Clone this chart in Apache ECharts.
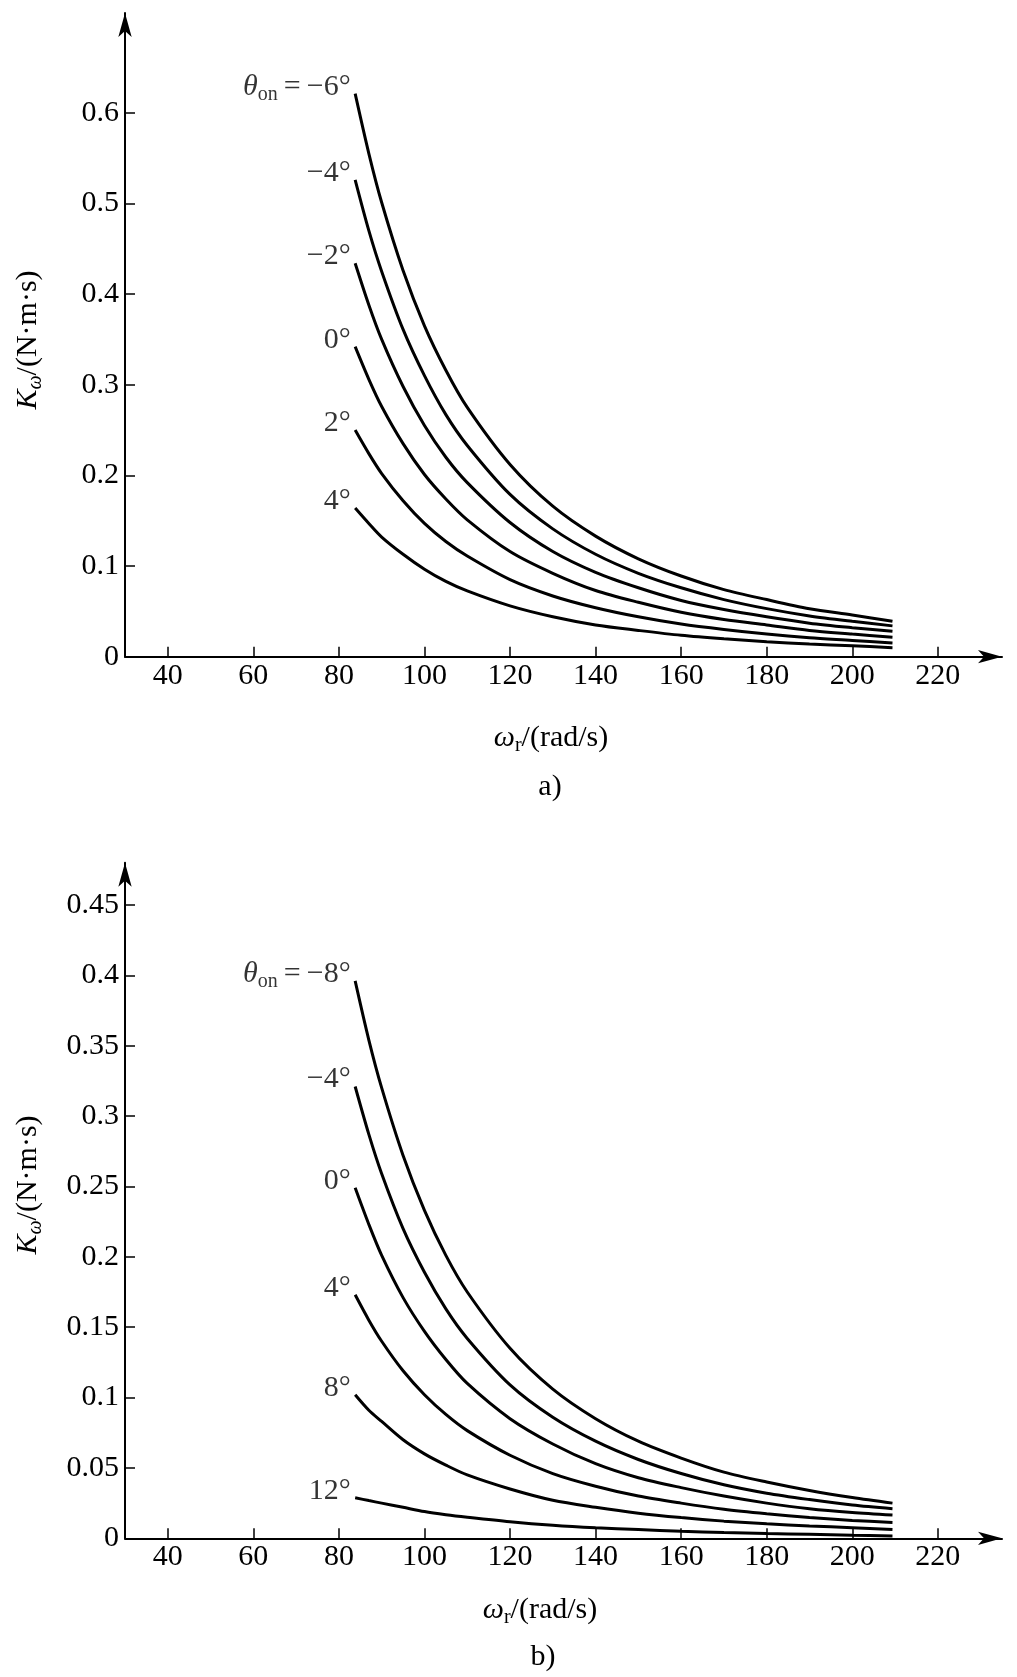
<!DOCTYPE html>
<html><head><meta charset="utf-8">
<script src="https://cdn.jsdelivr.net/npm/echarts@6/dist/echarts.min.js"></script>
<style>html,body{margin:0;padding:0;background:#fff}#c{width:1017px;height:1677px}</style>
</head><body><div id="c"></div>
<script>
// ---- data ----
const omega = [83.8, 87, 90, 95, 100, 105, 110, 120, 130, 140, 150, 160, 170, 180, 190, 200, 209.4];
const xTicks = [40, 60, 80, 100, 120, 140, 160, 180, 200, 220];
const yTicksA = [0, 0.1, 0.2, 0.3, 0.4, 0.5, 0.6];
const yTicksB = [0, 0.05, 0.1, 0.15, 0.2, 0.25, 0.3, 0.35, 0.4, 0.45];

// chart a)
const anglesA = ['−6°', '−4°', '−2°', '0°', '2°', '4°'];
const kA_m6 = [0.621, 0.555, 0.501, 0.426, 0.365, 0.316, 0.275, 0.212, 0.166, 0.133, 0.108, 0.089, 0.074, 0.063, 0.053, 0.046, 0.039];
const kA_m4 = [0.526, 0.470, 0.425, 0.361, 0.310, 0.267, 0.233, 0.179, 0.141, 0.113, 0.092, 0.076, 0.063, 0.053, 0.045, 0.039, 0.034];
const kA_m2 = [0.434, 0.388, 0.350, 0.298, 0.255, 0.220, 0.192, 0.148, 0.116, 0.093, 0.076, 0.062, 0.052, 0.044, 0.037, 0.032, 0.028];
const kA_0  = [0.342, 0.306, 0.276, 0.235, 0.201, 0.174, 0.151, 0.116, 0.092, 0.073, 0.060, 0.049, 0.041, 0.035, 0.029, 0.025, 0.0215];
const kA_2  = [0.250, 0.224, 0.202, 0.172, 0.147, 0.127, 0.111, 0.085, 0.067, 0.054, 0.044, 0.036, 0.030, 0.025, 0.021, 0.018, 0.015];
const kA_4  = [0.164, 0.147, 0.132, 0.113, 0.0965, 0.083, 0.0725, 0.056, 0.044, 0.035, 0.029, 0.0236, 0.0197, 0.0165, 0.014, 0.012, 0.010];

// chart b)
const anglesB = ['−8°', '−4°', '0°', '4°', '8°', '12°'];
const kB_m8 = [0.396, 0.354, 0.320, 0.272, 0.233, 0.201, 0.175, 0.135, 0.106, 0.085, 0.069, 0.057, 0.047, 0.040, 0.034, 0.029, 0.025];
const kB_m4 = [0.321, 0.287, 0.259, 0.220, 0.189, 0.163, 0.142, 0.109, 0.086, 0.069, 0.056, 0.046, 0.038, 0.032, 0.0275, 0.0236, 0.021];
const kB_0  = [0.249, 0.223, 0.201, 0.171, 0.147, 0.127, 0.110, 0.085, 0.067, 0.053, 0.043, 0.036, 0.030, 0.025, 0.021, 0.0183, 0.0165];
const kB_4  = [0.173, 0.155, 0.140, 0.119, 0.102, 0.088, 0.0765, 0.059, 0.046, 0.037, 0.030, 0.025, 0.0207, 0.0175, 0.0148, 0.0127, 0.0113];
const kB_8  = [0.102, 0.091, 0.083, 0.070, 0.060, 0.052, 0.045, 0.035, 0.027, 0.022, 0.0178, 0.0147, 0.0122, 0.0103, 0.0088, 0.0075, 0.0062];
const kB_12 = [0.0288, 0.0268, 0.025, 0.022, 0.019, 0.0168, 0.015, 0.0118, 0.0093, 0.0075, 0.0062, 0.0050, 0.0041, 0.0034, 0.0028, 0.0022, 0.0017];

const seriesA = [kA_m6, kA_m4, kA_m2, kA_0, kA_2, kA_4];
const seriesB = [kB_m8, kB_m4, kB_0, kB_4, kB_8, kB_12];

// ---- styling ----
const FF = 'Liberation Serif';
const FS = 30;
const rich = {
  it:  { fontFamily: FF, fontSize: FS, fontStyle: 'italic', color: '#000', lineHeight: 36 },
  n:   { fontFamily: FF, fontSize: FS, color: '#000', lineHeight: 36 },
  sub: { fontFamily: FF, fontSize: 20, color: '#000', lineHeight: 20, verticalAlign: 'bottom' },
  subi:{ fontFamily: FF, fontSize: 20, fontStyle: 'italic', color: '#000', lineHeight: 20, verticalAlign: 'bottom' }
};

function xAxisCfg(gi) {
  return {
    type: 'value', gridIndex: gi, min: 30, max: 235,
    axisLine: { show: true, onZero: false, symbol: ['none', 'arrow'], symbolSize: [10, 24],
      lineStyle: { color: '#000', width: 2 } },
    axisTick: { show: true, inside: true, length: 10, customValues: xTicks, lineStyle: { color: '#000', width: 1.5 } },
    axisLabel: { show: true, margin: 4, customValues: xTicks, fontFamily: FF, fontSize: FS, color: '#000' },
    splitLine: { show: false }
  };
}
function yAxisCfg(gi, max, ticks) {
  return {
    type: 'value', gridIndex: gi, min: 0, max: max,
    axisLine: { show: true, onZero: false, symbol: ['none', 'arrow'], symbolSize: [10, 24],
      lineStyle: { color: '#000', width: 2 } },
    axisTick: { show: true, inside: true, length: 10, customValues: ticks, lineStyle: { color: '#000', width: 1.5 } },
    axisLabel: { show: true, margin: 6, customValues: ticks, fontFamily: FF, fontSize: FS, color: '#000',
      formatter: v => String(v) },
    splitLine: { show: false }
  };
}

function lineSeries(vals, gi) {
  return {
    type: 'line', xAxisIndex: gi, yAxisIndex: gi,
    data: omega.map((w, i) => [w, vals[i]]),
    smooth: 0.3, showSymbol: false, symbol: 'none',
    lineStyle: { color: '#000', width: 3 },
    silent: true, z: 3
  };
}
function labelSeries(list, angles, gi) {
  return {
    type: 'scatter', xAxisIndex: gi, yAxisIndex: gi,
    data: list.map(vals => [omega[0], vals[0]]),
    symbolSize: 1, itemStyle: { color: 'rgba(0,0,0,0)' },
    label: {
      show: true, position: 'left', distance: 4, offset: [0, -7],
      formatter: p => p.dataIndex === 0
        ? '{it|θ}{sub|on}{n|\u2009=\u2009' + angles[0] + '}'
        : '{n|' + angles[p.dataIndex] + '}',
      rich: rich
    },
    silent: true, z: 4
  };
}

const chart = echarts.init(document.getElementById('c'), null, { renderer: 'canvas' });
const series = [];
seriesA.forEach(v => series.push(lineSeries(v, 0)));
seriesB.forEach(v => series.push(lineSeries(v, 1)));
series.push(labelSeries(seriesA, anglesA, 0));
series.push(labelSeries(seriesB, anglesB, 1));

function txt(x, y, text, rot) {
  return {
    type: 'text', x: x, y: y, rotation: rot || 0, silent: true,
    style: { text: text, rich: rich, fontFamily: FF, fontSize: FS, fill: '#000',
      align: 'center', verticalAlign: 'middle', textAlign: 'center', textVerticalAlign: 'middle' }
  };
}

chart.setOption({
  animation: false,
  backgroundColor: '#fff',
  grid: [
    { left: 125, width: 877, top: 13, height: 643.7, containLabel: false, outerBoundsMode: 'none' },
    { left: 125, width: 877, top: 862.7, height: 675.6, containLabel: false, outerBoundsMode: 'none' }
  ],
  xAxis: [xAxisCfg(0), xAxisCfg(1)],
  yAxis: [yAxisCfg(0, 0.71, yTicksA), yAxisCfg(1, 0.48, yTicksB)],
  series: series,
  graphic: [
    txt(551, 738, '{it|ω}{sub|r}{n|/(rad/s)}'),
    txt(550, 787, '{n|a)}'),
    txt(28, 340, '{it|K}{subi|ω}{n|/(N·m·s)}', Math.PI / 2),
    txt(540, 1610, '{it|ω}{sub|r}{n|/(rad/s)}'),
    txt(543, 1657, '{n|b)}'),
    txt(28, 1185, '{it|K}{subi|ω}{n|/(N·m·s)}', Math.PI / 2)
  ]
});
</script>
</body></html>
